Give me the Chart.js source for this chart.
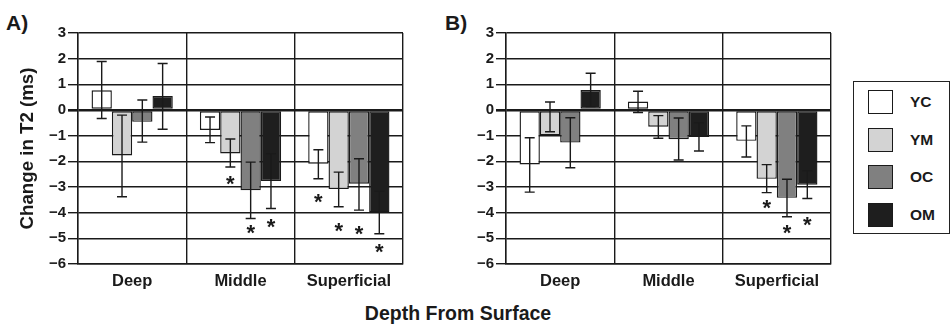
<!DOCTYPE html>
<html>
<head>
<meta charset="utf-8">
<script src="https://cdn.jsdelivr.net/npm/chart.js@4"></script>
<style>
  html, body { margin: 0; padding: 0; background: #fff; }
  body { width: 951px; height: 328px; position: relative; overflow: hidden;
         font-family: "Liberation Sans", Arial, sans-serif; font-weight: bold; color: #1a1a1a; }
  .wrap { position: absolute; top: 0; height: 300px; }
  .panel { position: absolute; top: 11px; font-size: 21px; }
  #xtitle { position: absolute; left: 0; width: 916px; top: 302px; text-align: center; font-size: 19.5px; }
  #legend { position: absolute; left: 853px; top: 81px; width: 95px; height: 151px;
            border: 1.4px solid #222; }
  .item { position: absolute; left: 14px; height: 25px; }
  .sw { position: absolute; left: 0; top: 0; width: 23px; height: 22px; border: 1.4px solid #1a1a1a; }
  .lab { position: absolute; left: 42px; top: 3px; font-size: 15.5px; }
</style>
</head>
<body>
<div class="panel" style="left:6px">A)</div>
<div class="panel" style="left:445px">B)</div>
<div class="wrap" style="left:0;width:420px"><canvas id="chartA" width="420" height="300"></canvas></div>
<div class="wrap" style="left:420px;width:420px"><canvas id="chartB" width="420" height="300"></canvas></div>
<div id="xtitle">Depth From Surface</div>
<div id="legend"></div>
<script>
// Kategorien und Gruppen
const categories = ['Deep', 'Middle', 'Superficial'];
const groups = ['YC', 'YM', 'OC', 'OM'];
const colors = ['#ffffff', '#d3d3d3', '#808080', '#1e1e1e'];
const yTicks = [3, 2, 1, 0, -1, -2, -3, -4, -5, -6];

// Panel A: Mittelwerte
const aYC = [0.77, -0.78, -2.09];
const aYM = [-1.77, -1.69, -3.08];
const aOC = [-0.46, -3.13, -2.87];
const aOM = [0.55, -2.77, -3.99];
// Panel A: Fehlerbalken (oben / unten)
const aYCHi = [1.89, -0.27, -1.55], aYCLo = [-0.33, -1.27, -2.68];
const aYMHi = [-0.2, -1.13, -2.42], aYMLo = [-3.38, -2.22, -3.77];
const aOCHi = [0.39, -2.03, -1.9],  aOCLo = [-1.25, -4.23, -3.9];
const aOMHi = [1.81, -1.7, -3.16],  aOMLo = [-0.75, -3.84, -4.82];
// Panel A: Sternchen (Position)
const aYCStar = [null, null, -3.36];
const aYMStar = [null, -2.66, -4.5];
const aOCStar = [null, -4.59, -4.6];
const aOMStar = [null, -4.34, -5.31];

// Panel B: Mittelwerte
const bYC = [-2.12, 0.33, -1.2];
const bYM = [-0.99, -0.65, -2.68];
const bOC = [-1.27, -1.14, -3.42];
const bOM = [0.78, -1.05, -2.91];
// Panel B: Fehlerbalken
const bYCHi = [-1.08, 0.73, -0.62], bYCLo = [-3.2, -0.1, -1.83];
const bYMHi = [0.31, -0.22, -2.13], bYMLo = [-0.85, -1.1, -3.22];
const bOCHi = [-0.3, -0.31, -2.7],  bOCLo = [-2.25, -1.95, -4.16];
const bOMHi = [1.43, -0.5, -2.37],  bOMLo = [0.13, -1.6, -3.45];
// Panel B: Sternchen
const bYCStar = [null, null, null];
const bYMStar = [null, null, -3.59];
const bOCStar = [null, null, -4.57];
const bOMStar = [null, null, -4.27];

const FONT = '"Liberation Sans", Arial, sans-serif';
const INK = '#1a1a1a';

// Fehlerbalken + Sternchen zeichnen
const errorPlugin = {
  id: 'errorBars',
  afterDatasetsDraw(chart) {
    const c = chart.ctx;
    const y = chart.scales.y;
    chart.data.datasets.forEach((ds, i) => {
      const meta = chart.getDatasetMeta(i);
      meta.data.forEach((bar, j) => {
        const top = y.getPixelForValue(ds.errHi[j]);
        const bot = y.getPixelForValue(ds.errLo[j]);
        c.save();
        c.strokeStyle = INK;
        c.lineWidth = 1.4;
        c.beginPath();
        c.moveTo(bar.x, top); c.lineTo(bar.x, bot);
        c.moveTo(bar.x - 5, top); c.lineTo(bar.x + 5, top);
        c.moveTo(bar.x - 5, bot); c.lineTo(bar.x + 5, bot);
        c.stroke();
        if (ds.stars[j] != null) {
          c.fillStyle = INK;
          c.font = 'bold 22px ' + FONT;
          c.textAlign = 'center';
          c.textBaseline = 'alphabetic';
          c.fillText('*', bar.x, y.getPixelForValue(ds.stars[j]) + 12.5);
        }
        c.restore();
      });
    });
  }
};

function makeChart(id, series, hi, lo, stars, yWidth, padRight, showTitle) {
  return new Chart(document.getElementById(id), {
    type: 'bar',
    data: {
      labels: categories,
      datasets: groups.map((g, i) => ({
        label: g,
        data: series[i],
        errHi: hi[i],
        errLo: lo[i],
        stars: stars[i],
        backgroundColor: colors[i],
        borderColor: INK,
        borderWidth: 1.4,
        borderSkipped: false,
        categoryPercentage: 0.75,
        barPercentage: 1.0
      }))
    },
    options: {
      responsive: false,
      animation: false,
      layout: { padding: { top: 33, right: padRight, left: 0, bottom: 0 } },
      plugins: { legend: { display: false }, tooltip: { enabled: false } },
      scales: {
        x: {
          grid: { color: INK, lineWidth: 1.4, drawTicks: false, offset: true },
          border: { color: INK, width: 1.4 },
          ticks: { color: INK, padding: 8, font: { family: FONT, size: 16.5, weight: 'bold' } },
          afterFit(s) { s.height = 36; }
        },
        y: {
          min: -6, max: 3,
          afterBuildTicks(s) { s.ticks = yTicks.map(v => ({ value: v })); },
          grid: {
            color: INK,
            lineWidth: c => (c.tick && c.tick.value === 0 ? 2.6 : 1.4),
            tickLength: 10
          },
          border: { color: INK, width: 1.4 },
          ticks: {
            color: INK, padding: 2,
            font: { family: FONT, size: 15, weight: 'bold' },
            callback: v => String(v).replace('-', '\u2212')
          },
          title: {
            display: showTitle,
            text: 'Change in T2 (ms)',
            color: INK,
            font: { family: FONT, size: 18.7, weight: 'bold' },
            padding: { top: 17, bottom: 0 }
          },
          afterFit(s) { s.width = yWidth; }
        }
      }
    },
    plugins: [errorPlugin]
  });
}

makeChart('chartA',
  [aYC, aYM, aOC, aOM],
  [aYCHi, aYMHi, aOCHi, aOMHi],
  [aYCLo, aYMLo, aOCLo, aOMLo],
  [aYCStar, aYMStar, aOCStar, aOMStar],
  78, 17, true);

makeChart('chartB',
  [bYC, bYM, bOC, bOM],
  [bYCHi, bYMHi, bOCHi, bOMHi],
  [bYCLo, bYMLo, bOCLo, bOMLo],
  [bYCStar, bYMStar, bOCStar, bOMStar],
  86, 9, false);

// Legende
const legend = document.getElementById('legend');
groups.forEach((g, i) => {
  const item = document.createElement('div');
  item.className = 'item';
  item.style.top = (8 + i * 37.5) + 'px';
  item.innerHTML = '<div class="sw" style="background:' + colors[i] + '"></div><div class="lab">' + g + '</div>';
  legend.appendChild(item);
});
</script>
</body>
</html>
